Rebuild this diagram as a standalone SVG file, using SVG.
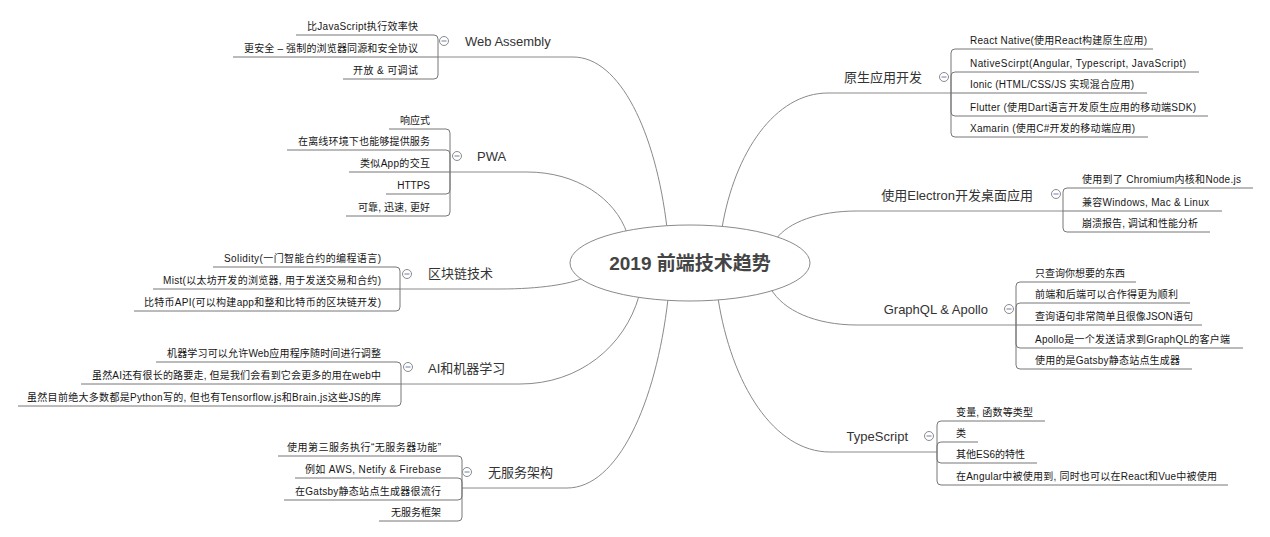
<svg xmlns="http://www.w3.org/2000/svg" width="1270" height="537" viewBox="0 0 1270 537">
<style>
.curve{fill:none;stroke:#8a8a8a;stroke-width:1}
.conn{fill:none;stroke:#777;stroke-width:1}
.topic{font-family:"Liberation Sans","Noto Sans CJK SC",sans-serif;font-size:13px;fill:#333}
.leaf{font-family:"Liberation Sans","Noto Sans CJK SC",sans-serif;font-size:10px;fill:#161616}
.lt{text-anchor:end}
.center{font-family:"Liberation Sans","Noto Sans CJK SC",sans-serif;font-size:19px;font-weight:bold;fill:#444;text-anchor:middle}
.tg circle{fill:#fff;stroke:#8a8a8a;stroke-width:1}
.tg line{stroke:#6f7db0;stroke-width:1}
</style>
<rect width="1270" height="537" fill="#fff"/>
<g id="connectors">
  <path class="curve" d="M667,228 C655.7,132.2 620,57 573,57 H438"/>
  <path class="curve" d="M627,233 C615,198.5 577,172 527,172 H450"/>
  <path class="curve" d="M583,278 C570.4,284 540,289 500,289 H400"/>
  <path class="curve" d="M639,296 C624.7,346.2 579.5,384 520,384 H401"/>
  <path class="curve" d="M668,299 C655.9,404.3 617.5,488 567,488 H462"/>
  <path class="curve" d="M722,228 C734.7,152.4 775,93 828,93 H951"/>
  <path class="curve" d="M776,239 C788.4,222.3 818,211 857,211 H1063"/>
  <path class="curve" d="M771,289 C783.1,310.2 815,325 857,325 H1016"/>
  <path class="curve" d="M718,298 C731.4,384.5 774,452 830,452 H937"/>
  <path class="conn" d="M438,57 V39 Q438,35 434,35 H296"/>
  <path class="conn" d="M438,57 H233"/>
  <path class="conn" d="M438,57 V75 Q438,79 434,79 H343"/>
  <path class="conn" d="M450,172 V133 Q450,129 446,129 H389"/>
  <path class="conn" d="M450,172 V154 Q450,150 446,150 H287"/>
  <path class="conn" d="M450,172 H349"/>
  <path class="conn" d="M450,172 V190 Q450,194 446,194 H386"/>
  <path class="conn" d="M450,172 V212 Q450,216 446,216 H346"/>
  <path class="conn" d="M400,289 V271 Q400,267 396,267 H213"/>
  <path class="conn" d="M400,289 H153"/>
  <path class="conn" d="M400,289 V307 Q400,311 396,311 H134"/>
  <path class="conn" d="M401,384 V366 Q401,362 397,362 H156"/>
  <path class="conn" d="M401,384 H81"/>
  <path class="conn" d="M401,384 V402 Q401,406 397,406 H18"/>
  <path class="conn" d="M462,488 V460 Q462,456 458,456 H278"/>
  <path class="conn" d="M462,488 V482 Q462,478 458,478 H295"/>
  <path class="conn" d="M462,488 V496 Q462,500 458,500 H284"/>
  <path class="conn" d="M462,488 V517 Q462,521 458,521 H379"/>
  <path class="conn" d="M951,93 V53 Q951,49 955,49 H1153"/>
  <path class="conn" d="M951,93 V76 Q951,72 955,72 H1199"/>
  <path class="conn" d="M951,93 H1147"/>
  <path class="conn" d="M951,93 V112 Q951,116 955,116 H1208"/>
  <path class="conn" d="M951,93 V133 Q951,137 955,137 H1148"/>
  <path class="conn" d="M1063,211 V192 Q1063,188 1067,188 H1253"/>
  <path class="conn" d="M1063,211 H1222"/>
  <path class="conn" d="M1063,211 V228 Q1063,232 1067,232 H1210"/>
  <path class="conn" d="M1016,325 V286 Q1016,282 1020,282 H1136"/>
  <path class="conn" d="M1016,325 V307 Q1016,303 1020,303 H1190"/>
  <path class="conn" d="M1016,325 H1202"/>
  <path class="conn" d="M1016,325 V344 Q1016,348 1020,348 H1243"/>
  <path class="conn" d="M1016,325 V365 Q1016,369 1020,369 H1192"/>
  <path class="conn" d="M937,452 V425 Q937,421 941,421 H1045"/>
  <path class="conn" d="M937,452 V446 Q937,442 941,442 H978"/>
  <path class="conn" d="M937,452 V459 Q937,463 941,463 H1037"/>
  <path class="conn" d="M937,452 V481 Q937,485 941,485 H1228"/>
</g>

<g id="center">
  <ellipse cx="690" cy="263" rx="120" ry="38" fill="#fff" stroke="#8a8a8a" stroke-width="1"/>
  <text class="center" x="690" y="270">2019 前端技术趋势</text>
</g>

<g id="topic-webassembly">
  <text class="topic" x="465" y="46">Web Assembly</text>
  <g class="tg"><circle cx="444" cy="41" r="4.5"/><line x1="441.5" y1="41" x2="446.5" y2="41"/></g>
</g>
<g id="wa-1"><text class="leaf lt" x="418" y="30" textLength="111" lengthAdjust="spacing">比JavaScript执行效率快</text></g>
<g id="wa-2"><text class="leaf lt" x="418" y="52" textLength="174" lengthAdjust="spacing">更安全 – 强制的浏览器同源和安全协议</text></g>
<g id="wa-3"><text class="leaf lt" x="418" y="74" textLength="65" lengthAdjust="spacing">开放 &amp; 可调试</text></g>

<g id="topic-pwa">
  <text class="topic" x="477" y="161">PWA</text>
  <g class="tg"><circle cx="457" cy="156" r="4.5"/><line x1="454.5" y1="156" x2="459.5" y2="156"/></g>
</g>
<g id="pwa-1"><text class="leaf lt" x="430" y="124">响应式</text></g>
<g id="pwa-2"><text class="leaf lt" x="430" y="145" textLength="132" lengthAdjust="spacing">在离线环境下也能够提供服务</text></g>
<g id="pwa-3"><text class="leaf lt" x="430" y="167" textLength="70" lengthAdjust="spacing">类似App的交互</text></g>
<g id="pwa-4"><text class="leaf lt" x="430" y="189">HTTPS</text></g>
<g id="pwa-5"><text class="leaf lt" x="430" y="211" textLength="72" lengthAdjust="spacing">可靠, 迅速, 更好</text></g>

<g id="topic-blockchain">
  <text class="topic" x="428" y="278">区块链技术</text>
  <g class="tg"><circle cx="407" cy="274" r="4.5"/><line x1="404.5" y1="274" x2="409.5" y2="274"/></g>
</g>
<g id="bc-1"><text class="leaf lt" x="381" y="262" textLength="157" lengthAdjust="spacing">Solidity(一门智能合约的编程语言)</text></g>
<g id="bc-2"><text class="leaf lt" x="381" y="284" textLength="218" lengthAdjust="spacing">Mist(以太坊开发的浏览器, 用于发送交易和合约)</text></g>
<g id="bc-3"><text class="leaf lt" x="381" y="306" textLength="237" lengthAdjust="spacing">比特币API(可以构建app和整和比特币的区块链开发)</text></g>

<g id="topic-ai">
  <text class="topic" x="428" y="373">AI和机器学习</text>
  <g class="tg"><circle cx="408" cy="367" r="4.5"/><line x1="405.5" y1="367" x2="410.5" y2="367"/></g>
</g>
<g id="ai-1"><text class="leaf lt" x="381" y="357" textLength="214" lengthAdjust="spacing">机器学习可以允许Web应用程序随时间进行调整</text></g>
<g id="ai-2"><text class="leaf lt" x="381" y="379" textLength="289" lengthAdjust="spacing">虽然AI还有很长的路要走, 但是我们会看到它会更多的用在web中</text></g>
<g id="ai-3"><text class="leaf lt" x="381" y="401" textLength="354" lengthAdjust="spacing">虽然目前绝大多数都是Python写的, 但也有Tensorflow.js和Brain.js这些JS的库</text></g>

<g id="topic-serverless">
  <text class="topic" x="488" y="477">无服务架构</text>
  <g class="tg"><circle cx="467" cy="472" r="4.5"/><line x1="464.5" y1="472" x2="469.5" y2="472"/></g>
</g>
<g id="sl-1"><text class="leaf lt" x="441" y="451" textLength="154" lengthAdjust="spacing">使用第三服务执行“无服务器功能”</text></g>
<g id="sl-2"><text class="leaf lt" x="441" y="473" textLength="136" lengthAdjust="spacing">例如 AWS, Netify &amp; Firebase</text></g>
<g id="sl-3"><text class="leaf lt" x="441" y="495" textLength="146" lengthAdjust="spacing">在Gatsby静态站点生成器很流行</text></g>
<g id="sl-4"><text class="leaf lt" x="441" y="516">无服务框架</text></g>

<g id="topic-native">
  <text class="topic lt" x="922" y="82">原生应用开发</text>
  <g class="tg"><circle cx="944" cy="77" r="4.5"/><line x1="941.5" y1="77" x2="946.5" y2="77"/></g>
</g>
<g id="na-1"><text class="leaf" x="970" y="44" textLength="177" lengthAdjust="spacing">React Native(使用React构建原生应用)</text></g>
<g id="na-2"><text class="leaf" x="970" y="67" textLength="216" lengthAdjust="spacing">NativeScirpt(Angular, Typescript, JavaScript)</text></g>
<g id="na-3"><text class="leaf" x="970" y="88" textLength="164" lengthAdjust="spacing">Ionic (HTML/CSS/JS 实现混合应用)</text></g>
<g id="na-4"><text class="leaf" x="970" y="111" textLength="226" lengthAdjust="spacing">Flutter (使用Dart语言开发原生应用的移动端SDK)</text></g>
<g id="na-5"><text class="leaf" x="970" y="132" textLength="165" lengthAdjust="spacing">Xamarin (使用C#开发的移动端应用)</text></g>

<g id="topic-electron">
  <text class="topic lt" x="1033" y="200">使用Electron开发桌面应用</text>
  <g class="tg"><circle cx="1056" cy="194" r="4.5"/><line x1="1053.5" y1="194" x2="1058.5" y2="194"/></g>
</g>
<g id="el-1"><text class="leaf" x="1082" y="183" textLength="159" lengthAdjust="spacing">使用到了 Chromium内核和Node.js</text></g>
<g id="el-2"><text class="leaf" x="1082" y="206" textLength="127" lengthAdjust="spacing">兼容Windows, Mac &amp; Linux</text></g>
<g id="el-3"><text class="leaf" x="1082" y="227" textLength="116" lengthAdjust="spacing">崩溃报告, 调试和性能分析</text></g>

<g id="topic-graphql">
  <text class="topic lt" x="988" y="314">GraphQL &amp; Apollo</text>
  <g class="tg"><circle cx="1009" cy="309" r="4.5"/><line x1="1006.5" y1="309" x2="1011.5" y2="309"/></g>
</g>
<g id="gq-1"><text class="leaf" x="1035" y="277">只查询你想要的东西</text></g>
<g id="gq-2"><text class="leaf" x="1035" y="298" textLength="143" lengthAdjust="spacing">前端和后端可以合作得更为顺利</text></g>
<g id="gq-3"><text class="leaf" x="1035" y="320" textLength="158" lengthAdjust="spacing">查询语句非常简单且很像JSON语句</text></g>
<g id="gq-4"><text class="leaf" x="1035" y="343" textLength="195" lengthAdjust="spacing">Apollo是一个发送请求到GraphQL的客户端</text></g>
<g id="gq-5"><text class="leaf" x="1035" y="364" textLength="145" lengthAdjust="spacing">使用的是Gatsby静态站点生成器</text></g>

<g id="topic-typescript">
  <text class="topic lt" x="908" y="441">TypeScript</text>
  <g class="tg"><circle cx="929" cy="436" r="4.5"/><line x1="926.5" y1="436" x2="931.5" y2="436"/></g>
</g>
<g id="ts-1"><text class="leaf" x="956" y="416" textLength="77" lengthAdjust="spacing">变量, 函数等类型</text></g>
<g id="ts-2"><text class="leaf" x="956" y="437">类</text></g>
<g id="ts-3"><text class="leaf" x="956" y="458" textLength="69" lengthAdjust="spacing">其他ES6的特性</text></g>
<g id="ts-4"><text class="leaf" x="956" y="480" textLength="261" lengthAdjust="spacing">在Angular中被使用到, 同时也可以在React和Vue中被使用</text></g>
</svg>
